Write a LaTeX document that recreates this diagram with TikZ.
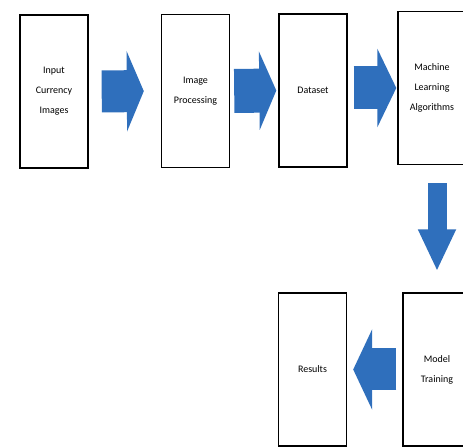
\documentclass[tikz,border=0pt]{standalone}
\usepackage{fontspec}
\setmainfont{Carlito}
\usetikzlibrary{arrows.meta}
\definecolor{arrowblue}{RGB}{47,111,188}

\tikzset{
  stage/.style={draw, line width=1.4pt, minimum width=68pt, minimum height=153pt,
    inner sep=0pt, align=center, font=\fontsize{10}{20}\selectfont},
  flow/.style={arrowblue, line width=42pt, -{Triangle[length=17pt,width=80pt]}},
}

\begin{document}
\begin{tikzpicture}[x=1pt,y=1pt]
%\draw[step=10,gray,very thin] (0,0) grid (463,447); %background grid
\useasboundingbox (0,0) rectangle (463,447);
\clip (0,0) rectangle (463,447);

\node[stage] (input) at (54,355.5)  {Input\\Currency\\Images};
\node[stage] (proc)  at (195.5,356) {Image\\Processing};
\node[stage] (data)  at (313,356.5) {Dataset};
\node[stage] (mla)   at (432,359)   {Machine\\Learning\\Algorithms};
\node[stage] (train) at (437,77.5)  {Model\\Training};
\node[stage] (res)   at (312.5,77.5) {Results};

\draw[flow, shorten <=13pt, shorten >=17pt] (input.east) -- (proc.west);
\draw[flow, line width=44pt, -{Triangle[length=17pt,width=78pt]}, shorten <=4pt, shorten >=2pt] (proc.east) -- (data.west);
\draw[flow, line width=43pt, -{Triangle[length=19pt,width=78pt]}, shorten <=6pt, shorten >=1pt] (data.east |- mla.west) -- (mla.west);
\draw[flow, line width=19pt, -{Triangle[length=42pt,width=35pt]}, shorten <=18pt, shorten >=21pt] (mla.south -| train.north) -- (train.north);
\draw[flow, -{Triangle[length=19pt,width=80pt]}, shorten <=6pt, shorten >=6pt] (train.west) -- (res.east);

\end{tikzpicture}
\end{document}
